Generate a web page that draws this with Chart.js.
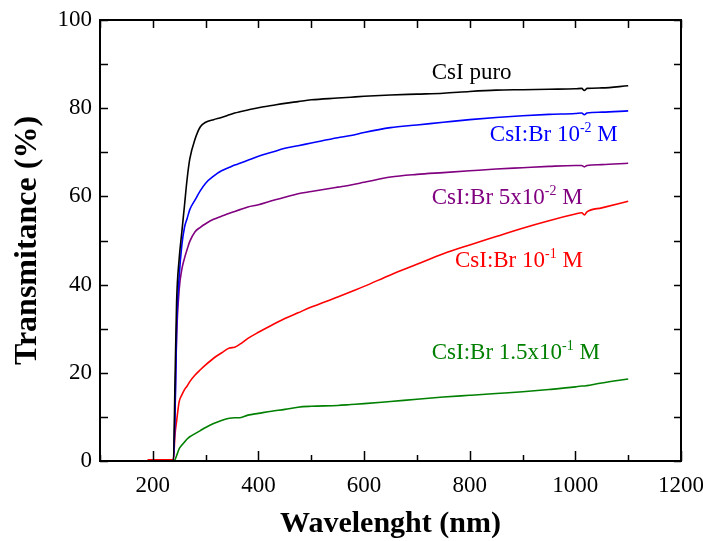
<!DOCTYPE html>
<html>
<head>
<meta charset="utf-8">
<script src="https://cdn.jsdelivr.net/npm/chart.js@4/dist/chart.umd.min.js"></script>
<style>
html,body{margin:0;padding:0;background:#fff;}
canvas{display:block;}
</style>
</head>
<body>
<canvas id="c" width="703" height="541"></canvas>
<script>
const wavelength = [190,239,242,245,250,255,260,265,270,280,290,300,315,330,345,355,365,380,400,425,450,475,500,550,575,600,650,700,750,800,850,900,950,1000,1012,1017,1022,1050,1100];
const csiPuro   = [0,0,18,36,46,52,58,64,68.5,73,75.8,76.8,77.4,77.9,78.5,78.9,79.2,79.6,80.1,80.6,81.1,81.5,81.9,82.3,82.5,82.7,83,83.2,83.4,83.8,84.1,84.2,84.3,84.4,84.5,84.0,84.5,84.6,85.1];
const csiBr1e2  = [0,0,10,30,42,49,53,55,57,59.2,61.3,63,64.6,65.8,66.6,67.1,67.5,68.2,69.1,70,70.9,71.5,72.1,73.3,73.8,74.5,75.6,76.2,76.8,77.4,77.9,78.3,78.6,78.8,78.9,78.5,78.9,79.1,79.4];
const csiBr5e2  = [0,0,12,28,39,43.5,46,48,49.8,52,53,53.8,54.8,55.5,56.2,56.6,57,57.6,58.1,59,59.8,60.6,61.1,62.1,62.6,63.2,64.4,65,65.4,65.8,66.2,66.5,66.8,67,67,66.7,67,67.2,67.5];
const csiBr1e1  = [0.3,0.3,6,9,13.5,15,16.2,17,18,19.5,20.7,21.8,23.3,24.5,25.6,25.8,26.5,27.8,29.2,30.8,32.3,33.6,34.9,37.2,38.4,39.6,42.2,44.6,47,49,50.9,52.8,54.5,56,56.3,55.8,56.5,57.4,58.9];
const csiBr15e1 = [0,0,0.3,1.2,2.8,3.6,4.3,5,5.5,6.2,6.9,7.6,8.5,9.2,9.7,9.8,9.8,10.4,10.8,11.3,11.7,12.2,12.4,12.6,12.8,13,13.5,14,14.5,14.9,15.3,15.7,16.2,16.8,17,17,17.1,17.7,18.6];

const seriesNames  = ['CsI puro','CsI:Br 10-2 M','CsI:Br 5x10-2 M','CsI:Br 10-1 M','CsI:Br 1.5x10-1 M'];
const seriesColors = ['#000000','#0000ff','#800080','#ff0000','#008000'];
const seriesValues = [csiPuro, csiBr1e2, csiBr5e2, csiBr1e1, csiBr15e1];

const xTicks = [100,200,300,400,500,600,700,800,900,1000,1100,1200];
const yTicks = [0,10,20,30,40,50,60,70,80,90,100];

// annotation labels: main text, superscript, tail, anchor x (nm), anchor y (%)
const labelMain = ['CsI puro','CsI:Br 10','CsI:Br 5x10','CsI:Br 10','CsI:Br 1.5x10'];
const labelSup  = ['','-2','-2','-1','-1'];
const labelTail = ['',' M',' M',' M',' M'];
const labelX    = [728,838,728,772,728];
const labelY    = [86.6,72.6,58.3,44,23.1];

const SERIF = "'Liberation Serif','Times New Roman',serif";

const framePlugin = {
  id:'frame',
  afterDatasetsDraw(chart){
    const {ctx, chartArea:a, scales:{x,y}} = chart;
    ctx.save();
    ctx.strokeStyle = '#000';
    ctx.lineWidth = 1.5;
    ctx.beginPath();
    xTicks.forEach(v=>{
      const px = Math.round(x.getPixelForValue(v))+0.5;
      const major = v % 200 === 0;
      ctx.moveTo(px, a.bottom); ctx.lineTo(px, a.bottom - (major?10:6));
      ctx.moveTo(px, a.top); ctx.lineTo(px, a.top + 8);
    });
    yTicks.forEach(v=>{
      const py = Math.round(y.getPixelForValue(v))+0.5;
      ctx.moveTo(a.left, py); ctx.lineTo(a.left + 8, py);
      ctx.moveTo(a.right, py); ctx.lineTo(a.right - 7, py);
    });
    ctx.stroke();
    ctx.lineWidth = 2;
    ctx.strokeRect(a.left, a.top, a.right - a.left, a.bottom - a.top);
    ctx.textBaseline = 'alphabetic';
    ctx.textAlign = 'left';
    labelMain.forEach((t,i)=>{
      let px = x.getPixelForValue(labelX[i]);
      const py = y.getPixelForValue(labelY[i]);
      ctx.fillStyle = seriesColors[i];
      ctx.font = "23px " + SERIF;
      ctx.fillText(t, px, py);
      px += ctx.measureText(t).width;
      if (labelSup[i]) {
        ctx.font = "14px " + SERIF;
        ctx.fillText(labelSup[i], px, py - 9);
        px += ctx.measureText(labelSup[i]).width;
        ctx.font = "23px " + SERIF;
        ctx.fillText(labelTail[i], px, py);
      }
    });
    ctx.restore();
  }
};

new Chart(document.getElementById('c'), {
  type:'line',
  data:{
    datasets: seriesValues.map((vals,i)=>({
      label: seriesNames[i],
      data: wavelength.map((w,j)=>({x:w, y:vals[j]})),
      borderColor: seriesColors[i],
      backgroundColor: seriesColors[i],
      borderWidth: 1.6,
      pointRadius: 0,
      fill:false,
      cubicInterpolationMode:'monotone'
    }))
  },
  options:{
    responsive:false,
    animation:false,
    layout:{padding:{left:0,right:22,top:20,bottom:0}},
    plugins:{legend:{display:false},tooltip:{enabled:false}},
    scales:{
      x:{
        type:'linear', min:100, max:1200,
        afterBuildTicks(s){ s.ticks = xTicks.map(v=>({value:v})); },
        afterFit(s){ s.height = 80; s.paddingLeft = 0; s.paddingRight = 0; },
        grid:{display:false, drawTicks:false},
        border:{display:false},
        ticks:{
          padding:11,
          color:'#000',
          font:{family:SERIF, size:23},
          maxRotation:0, autoSkip:false,
          callback:(v)=> (v % 200 === 0) ? String(v) : ''
        },
        title:{display:true, text:'Wavelenght (nm)', color:'#000',
          font:{family:SERIF, size:30, weight:'bold', lineHeight:0.8},
          padding:{top:0,bottom:5}}
      },
      y:{
        type:'linear', min:0, max:100,
        afterBuildTicks(s){ s.ticks = [0,20,40,60,80,100].map(v=>({value:v})); },
        afterFit(s){ s.width = 100; s.paddingTop = 0; s.paddingBottom = 0; },
        grid:{display:false, drawTicks:false},
        border:{display:false},
        ticks:{
          padding:8,
          color:'#000',
          font:{family:SERIF, size:23}
        },
        title:{display:true, text:'Transmitance (%)', color:'#000',
          font:{family:SERIF, size:32, weight:'bold', lineHeight:1},
          padding:{top:12,bottom:0}}
      }
    }
  },
  plugins:[framePlugin]
});
</script>
</body>
</html>
